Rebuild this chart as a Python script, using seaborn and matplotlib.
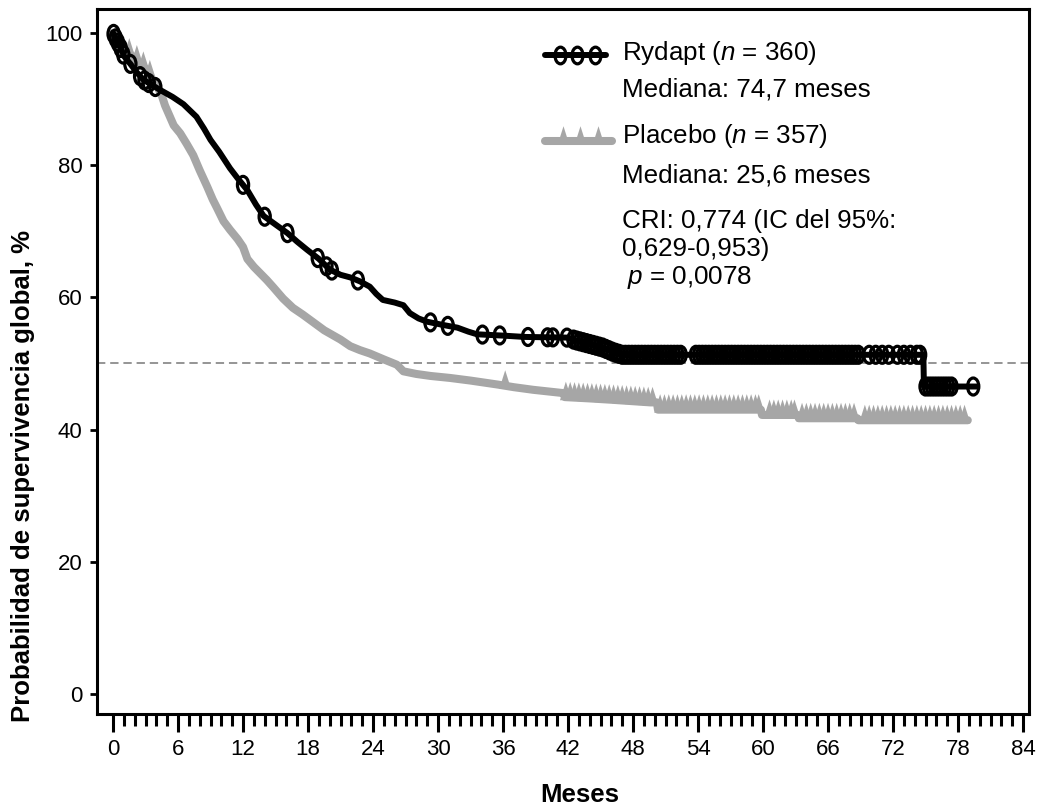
import numpy as np
import pandas as pd
import matplotlib
matplotlib.use("Agg")
import matplotlib.pyplot as plt
import seaborn as sns
from matplotlib.path import Path
from matplotlib.transforms import Affine2D
from matplotlib.lines import Line2D

# ---------------- data ----------------
ryd_time = [0, 0.3, 0.65, 1.0, 1.6, 2.2, 2.8, 3.5, 4.3, 5.5, 6.5, 7.7, 8.4, 9.0, 9.8,
            10.8, 11.5, 12.4, 13.2, 13.9, 15.0, 16.1, 17.0, 17.9, 19.0, 20.0, 21.0,
            21.9, 22.8, 23.7, 24.3, 24.9, 26.0, 26.8, 27.4, 28.2, 29.0, 30.5, 31.8,
            32.8, 33.6, 36.0, 38.0, 41.9, 42.7, 43.4, 44.3, 45.2, 46.2, 47.0, 74.8,
            74.85, 79.7]
ryd_surv = [100, 99.0, 97.9, 96.5, 95.3, 94.0, 92.9, 92.2, 91.4, 90.3, 89.2, 87.3, 85.5,
            83.8, 82.0, 79.5, 78.0, 76.2, 74.0, 72.3, 71.0, 69.7, 68.4, 67.2, 65.8, 64.2,
            63.4, 63.0, 62.4, 61.6, 60.5, 59.6, 59.2, 58.8, 57.6, 56.8, 56.3, 55.8, 55.4,
            54.8, 54.4, 54.2, 54.0, 53.9, 53.5, 53.2, 52.8, 52.4, 51.7, 51.3, 51.3,
            46.5, 46.5]

pla_time = [0, 0.5, 1.0, 1.85, 2.5, 3.1, 3.6, 4.1, 4.5, 4.8, 5.2, 5.6, 6.2, 6.8, 7.4,
            8.0, 8.7, 9.2, 9.6, 10.2, 10.8, 11.5, 12.0, 12.4, 13.0, 13.6, 14.2, 14.8,
            15.7, 16.6, 17.5, 18.5, 19.5, 21.0, 21.9, 22.8, 23.7, 25.0, 26.2, 26.8,
            28.0, 29.3, 31.1, 33.0, 35.5, 37.0, 38.8, 41.6, 41.7, 44.0, 46.0, 49.6,
            50.2, 50.3, 59.8, 59.9, 63.2, 63.3, 68.7, 68.8, 78.9]
pla_surv = [100, 98.5, 97.5, 96.4, 95.3, 94.4, 93.0, 91.8, 90.5, 89.0, 87.5, 86.0, 84.8,
            83.2, 81.5, 79.2, 76.7, 74.8, 73.5, 71.5, 70.2, 68.8, 67.6, 65.8, 64.6, 63.6,
            62.6, 61.5, 59.8, 58.4, 57.4, 56.2, 55.0, 53.6, 52.6, 52.0, 51.5, 50.6, 49.8,
            48.8, 48.4, 48.1, 47.8, 47.4, 46.8, 46.4, 46.0, 45.5, 44.9, 44.7, 44.5, 44.1,
            44.1, 43.0, 43.0, 42.2, 42.2, 41.7, 41.7, 41.4, 41.4]

# censoring times
ryd_cens = [0.05, 0.25, 0.45, 0.7, 0.95, 1.6, 2.5, 2.9, 3.3, 3.9, 12.0, 14.0, 16.1, 18.9,
            19.7, 20.2, 22.6, 29.3, 30.9, 34.1, 35.7, 38.3, 40.1, 40.6, 41.9,
            42.5, 42.8, 43.1, 43.4, 43.7, 44.0, 44.3, 44.6, 44.9, 45.2, 45.5, 45.8, 46.1,
            46.4, 46.7, 47.0, 47.3, 47.6, 47.9, 48.2, 48.5, 48.8, 49.1, 49.4, 49.7, 50.0,
            50.3, 50.6, 50.9, 51.2, 51.5, 51.8, 52.1, 52.4,
            53.8, 54.1, 54.4, 54.7, 55.0, 55.3, 55.6, 55.9, 56.2, 56.5, 56.8, 57.1, 57.4,
            57.7, 58.0, 58.3, 58.6, 58.9, 59.2, 59.5, 59.8, 60.1, 60.4, 60.7, 61.0, 61.3,
            61.6, 61.9, 62.2, 62.5, 62.8, 63.1, 63.4, 63.7, 64.0, 64.3, 64.6, 64.9, 65.2,
            65.5, 65.8, 66.1, 66.4, 66.7, 67.0, 67.3, 67.6, 67.9, 68.2, 68.5, 68.8,
            69.8, 70.4, 71.0, 71.6, 72.4, 73.0, 73.6, 74.2, 74.5,
            75.0, 75.3, 75.6, 75.9, 76.2, 76.5, 76.8, 77.1, 77.4, 79.4]
pla_cens = [1.5, 2.2, 2.8, 3.4, 36.2,
            41.8, 42.2, 42.6, 43.0, 43.4, 43.8, 44.2, 44.6, 45.0, 45.4, 45.8, 46.2, 46.6,
            47.0, 47.4, 47.8, 48.2, 48.6, 49.0, 49.4, 49.8,
            50.5, 50.9, 51.3, 51.7, 52.1, 52.5, 52.9, 53.3, 53.7, 54.1, 54.5, 54.9, 55.3,
            55.7, 56.1, 56.5, 56.9, 57.3, 57.7, 58.1, 58.5, 58.9, 59.3, 59.6,
            60.6, 61.0, 61.4, 61.8, 62.2, 62.6, 62.9,
            63.6, 64.0, 64.4, 64.8, 65.2, 65.6, 66.0, 66.4, 66.8, 67.2, 67.6, 68.0, 68.4,
            69.4, 69.8, 70.2, 70.6, 71.0, 71.4, 71.8, 72.2, 72.6, 73.0, 73.4, 73.8, 74.2,
            74.6, 75.0, 75.4, 75.8, 76.2, 76.6, 77.0, 77.4, 77.8, 78.2, 78.6]

x_major = list(range(0, 85, 6))
x_minor = list(range(0, 85, 1))
y_major = [0, 20, 40, 60, 80, 100]

legend_lines = [
    ("Rydapt ($n$ = 360)", 622, 60),
    ("Mediana: 74,7 meses", 622, 97),
    ("Placebo ($n$ = 357)", 622, 143),
    ("Mediana: 25,6 meses", 622, 182),
    ("CRI: 0,774 (IC del 95%:", 622, 228),
    ("0,629-0,953)", 622, 256),
    ("$p$ = 0,0078", 627, 284),
]

# ---------------- style ----------------
sns.set_style("ticks")
plt.rcParams["font.family"] = ["Liberation Sans", "DejaVu Sans"]
plt.rcParams["mathtext.fontset"] = "custom"
plt.rcParams["mathtext.rm"] = "Liberation Sans"
plt.rcParams["mathtext.it"] = "Liberation Sans:italic"
plt.rcParams["lines.scale_dashes"] = False
for k in ["text.color", "axes.labelcolor", "xtick.color", "ytick.color", "axes.edgecolor"]:
    plt.rcParams[k] = "black"

W, H = 1039, 810
fig = plt.figure(figsize=(W / 100, H / 100), dpi=100)
ax = fig.add_axes([97 / W, 1 - 714 / H, (1029 - 97) / W, (714 - 9) / H])

df_r = pd.DataFrame({"time": ryd_time, "surv": ryd_surv})
df_p = pd.DataFrame({"time": pla_time, "surv": pla_surv})
cr = pd.DataFrame({"time": ryd_cens, "surv": np.interp(ryd_cens, ryd_time, ryd_surv)})
cp = pd.DataFrame({"time": pla_cens, "surv": np.interp(pla_cens, pla_time, pla_surv)})

GRAY = "#a6a6a6"
ellipse = Path.unit_circle().transformed(Affine2D().scale(0.66, 1.0))
tri = Path([(-0.38, -0.2), (0.38, -0.2), (0.0, 1.0), (-0.38, -0.2)],
           [Path.MOVETO, Path.LINETO, Path.LINETO, Path.CLOSEPOLY])

ax.axhline(50, color="#8c8c8c", lw=1.3, ls=(0, (6, 3.5)), zorder=1)

sns.lineplot(data=df_p, x="time", y="surv", ax=ax, color=GRAY, lw=5.8,
             estimator=None, sort=False, zorder=2)
sns.scatterplot(data=cp, x="time", y="surv", ax=ax, marker=tri, s=500,
                color=GRAY, edgecolor="none", linewidth=0, zorder=2)
sns.lineplot(data=df_r, x="time", y="surv", ax=ax, color="black", lw=4.3,
             estimator=None, sort=False, zorder=3)
sns.scatterplot(data=cr, x="time", y="surv", ax=ax, marker=ellipse, s=150,
                facecolor="none", edgecolor="black", linewidth=2.3, zorder=4)

ax.set_xlim(-1.48, 84.55)
ax.set_ylim(-3.03, 103.6)
ax.set_xticks(x_major)
ax.set_xticks(x_minor, minor=True)
ax.set_yticks(y_major)
ax.tick_params(axis="x", which="major", length=13, width=2.2, pad=5, labelsize=16,
               direction="out", color="black", labelcolor="black")
ax.tick_params(axis="x", which="minor", length=8.5, width=2.2, direction="out", color="black")
ax.tick_params(axis="y", which="major", length=5, width=2, pad=5.5, labelsize=16,
               direction="out", color="black", labelcolor="black")
for s in ax.spines.values():
    s.set_linewidth(2.2)
    s.set_color("black")
    s.set_visible(True)
ax.set_xlabel("")
ax.set_ylabel("")

fig.text(580 / W, 1 - 795 / H, "Meses", ha="center", va="center",
         fontsize=18.5, fontweight="bold")
fig.text(23 / W, 1 - 476.5 / H, "Probabilidad de supervivencia global, %",
         rotation=90, ha="center", va="center", fontsize=18.5, fontweight="bold")


def fx(x):
    return x / W


def fy(y):
    return 1 - y / H


fig.add_artist(Line2D([fx(545), fx(606)], [fy(55), fy(55)], color="black", lw=4.3,
                      transform=fig.transFigure))
fig.add_artist(Line2D([fx(560), fx(577), fx(595)], [fy(55)] * 3, ls="none",
                      marker=ellipse, markersize=12, markerfacecolor="none",
                      markeredgecolor="black", markeredgewidth=2.3,
                      transform=fig.transFigure))
fig.add_artist(Line2D([fx(545), fx(612)], [fy(141), fy(141)], color=GRAY, lw=5.8,
                      transform=fig.transFigure))
fig.add_artist(Line2D([fx(563), fx(580), fx(598)], [fy(141)] * 3, ls="none",
                      marker=tri, markersize=22, markerfacecolor=GRAY,
                      markeredgecolor="none", transform=fig.transFigure))

for txt, x, y in legend_lines:
    fig.text(fx(x), fy(y), txt, ha="left", va="baseline", fontsize=18.7, color="black")

fig.savefig("out.png", dpi=100)
